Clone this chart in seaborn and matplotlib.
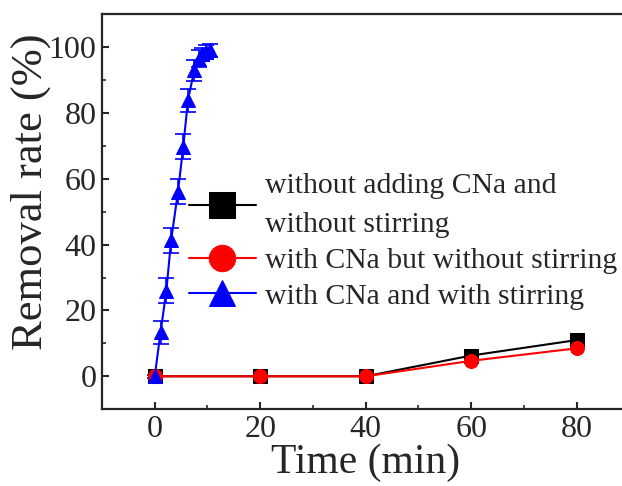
import matplotlib
matplotlib.use("Agg")
import matplotlib.pyplot as plt
import seaborn as sns
import pandas as pd
from matplotlib.ticker import MultipleLocator

sns.set_style("ticks")
plt.rcParams['font.family'] = ['Liberation Serif', 'DejaVu Serif']
plt.rcParams['mathtext.fontset'] = 'stix'

# data
t_slow = [0, 20, 40, 60, 80]
black_vals = [0, 0, 0, 6.3, 11.0]
black_err = [0.5, 0.5, 0.5, 0.8, 0.8]
red_vals = [0, 0, 0, 4.7, 8.5]
red_err = [0.5, 0.5, 0.5, 1.2, 1.2]

t_fast = [0, 1.1, 2.2, 3.1, 4.4, 5.4, 6.3, 7.5, 8.3, 9.0, 9.7, 10.4]
blue_vals = [0, 13.4, 26, 41.3, 56, 69.7, 83.9, 93, 96.5, 97.8, 98.5, 99]
blue_err = [0.5, 3.5, 3.8, 3.8, 3.8, 3.8, 3.5, 3.2, 2.5, 2, 2, 2]

labels = ["without adding CNa and\nwithout stirring",
          "with CNa but without stirring",
          "with CNa and with stirring"]

fig = plt.figure(figsize=(6.22, 4.86), dpi=100)
ax = fig.add_axes([0.164, 0.158, 0.848, 0.813])

series = [
    (t_slow, black_vals, black_err, 'black', 's', labels[0]),
    (t_slow, red_vals, red_err, 'red', 'o', labels[1]),
    (t_fast, blue_vals, blue_err, 'blue', '^', labels[2]),
]
for x, y, e, c, m, lab in series:
    df = pd.DataFrame({'x': x, 'y': y})
    ax.errorbar(x, y, yerr=e, fmt='none', ecolor=c, elinewidth=1.2,
                capsize=6 if c == 'blue' else 3, capthick=1.2, zorder=2)
    sns.lineplot(data=df, x='x', y='y', ax=ax, color=c, marker=m,
                 markersize=10, markeredgecolor=c,
                 linewidth=1.5, label=lab, zorder=3)

ax.set_xlim(-10, 90)
ax.set_ylim(-10, 110)
ax.xaxis.set_major_locator(MultipleLocator(20))
ax.xaxis.set_minor_locator(MultipleLocator(10))
ax.yaxis.set_major_locator(MultipleLocator(20))
ax.yaxis.set_minor_locator(MultipleLocator(10))
ax.tick_params(which='major', direction='in', length=5, width=1.5, labelsize=23, pad=4)
ax.tick_params(which='minor', direction='in', length=3, width=1.2)
for s in ax.spines.values():
    s.set_linewidth(1.6)
    s.set_visible(True)

ax.set_xlabel("Time (min)", fontsize=30, labelpad=0)
ax.set_ylabel("Removal rate (%)", fontsize=32, labelpad=-2)
ax.yaxis.label.set_y(0.55)

leg = ax.legend(loc='upper left', bbox_to_anchor=(0.165, 0.597), frameon=False,
                fontsize=21.4, handlelength=2.25, handletextpad=0.3,
                labelspacing=0.3, borderpad=0, borderaxespad=0, markerscale=1.9)
for txt in leg.get_texts():
    txt.set_linespacing(1.65)

fig.savefig("out.png", dpi=100)
